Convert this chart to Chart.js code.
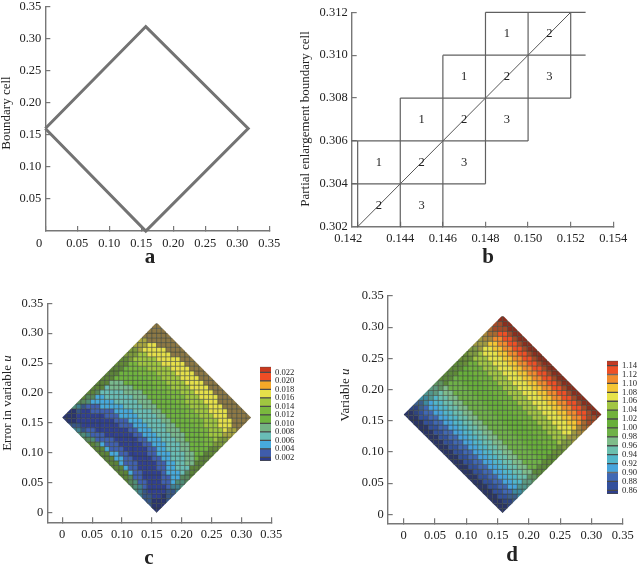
<!DOCTYPE html>
<html>
<head>
<meta charset="utf-8">
<style>
  body { margin: 0; background: #fff; }
  canvas { position: absolute; }
</style>
<script src="https://cdn.jsdelivr.net/npm/chart.js@4/dist/chart.umd.js"></script>
</head>
<body>
<canvas id="chartA" width="295" height="275" style="left:0;top:0"></canvas>
<canvas id="chartB" width="343" height="275" style="left:295px;top:0"></canvas>
<canvas id="chartC" width="300" height="272" style="left:0;top:296px"></canvas>
<canvas id="chartD" width="298" height="272" style="left:340px;top:290px"></canvas>
<canvas id="barC" width="44" height="108" style="left:256px;top:360px"></canvas>
<canvas id="barD" width="35" height="146" style="left:603px;top:354px"></canvas>
<script>
// tick values and labels
const axisTicks = [0, 0.05, 0.10, 0.15, 0.20, 0.25, 0.30, 0.35];
const axisLabels = ["0", "0.05", "0.10", "0.15", "0.20", "0.25", "0.30", "0.35"];
const axisLabelsA = ["0    ", "0.05", "0.10", "0.15", "0.20", "0.25", "0.30", "0.35"];
const yTicksA = [0.05, 0.10, 0.15, 0.20, 0.25, 0.30, 0.35];
const yLabelsA = ["0.05", "0.10", "0.15", "0.20", "0.25", "0.30", "0.35"];
const xTicksB = [0.142, 0.144, 0.146, 0.148, 0.150, 0.152, 0.154];
const xLabelsB = ["0.142      ", "0.144", "0.146", "0.148", "0.150", "0.152", "0.154"];
const yTicksB = [0.302, 0.304, 0.306, 0.308, 0.310, 0.312];
const yLabelsB = ["0.302", "0.304", "0.306", "0.308", "0.310", "0.312"];

// a: boundary outline
const outlineX = [0, 0.157, 0.317, 0.157, 0];
const outlineY = [0.16, 0.319, 0.16, 0, 0.16];

// b: enlarged boundary cells, [y, x0, x1] and [x, y0, y1]
const cellLinesH = [
  [0.312, 0.148, 0.1527], [0.310, 0.146, 0.1527], [0.308, 0.144, 0.152],
  [0.306, 0.1417, 0.150], [0.304, 0.1417, 0.148]
];
const cellLinesV = [
  [0.142, 0.302, 0.306], [0.144, 0.302, 0.308], [0.146, 0.302, 0.310],
  [0.148, 0.304, 0.312], [0.150, 0.306, 0.312], [0.152, 0.308, 0.312]
];
const diagonalX = [0.142, 0.152];
const diagonalY = [0.302, 0.312];
const cellTextX = [0.143, 0.145, 0.147, 0.149, 0.143, 0.145, 0.147, 0.149, 0.151, 0.145, 0.147, 0.149, 0.151];
const cellTextY = [0.305, 0.307, 0.309, 0.311, 0.303, 0.305, 0.307, 0.309, 0.311, 0.303, 0.305, 0.307, 0.309];
const cellText = ["1", "1", "1", "1", "2", "2", "2", "2", "2", "3", "3", "3", "3"];

// c, d: cells on the mesh, bottom row first, one letter per cell (upper case = refined mesh)
const cellSize = 0.0079;
const errorRows = [
  "AA", "BAAA", "BBAAAB", "CBBaaABB", "DCBaaaaBBC", "EDCbaaaabCCD",
  "FEDbbaaabbcDDE", "FFEbbaaaabbccEEF", "FFFcbbaaaabcccdEFF", "FFFcbbaaaabbccdddFFF",
  "FFFcbbbaaaabbccddeeFFF", "FFFccbbaaaabbccdddeefFFG", "FFFccbbaaaabbcccdddeeffFGG",
  "FFFcbbbaaaaabbccdddeeffffGGH", "FFEcbbbaaaaabbcccdddeefffggHHH",
  "EEDbbbbaaaaabbcccdddeeffffgghHHI", "DDCbbbaaaaaabbcccdddeeefffgghhhIII",
  "CCBbbaaaaaaabbcccdddeeeffffgghhhiIIJ", "BBBaaaaaaaabbbcccddddeeffffgghhhiiiJJJ",
  "AAAaaaaaaaabbbcccddddeeffffggghhhiiiJJJJ", "AAAaaaaaabbbccccddddeeffffggghhhiiiJJJJJ",
  "AABaabbbbbccccddddeefffffgghhhiiiiJJJJ", "DCBbbbcccccddddeeefffffgghhhhiiiJJJJ",
  "EEDcccccdddddeeefffffgghhhhiiiJJJJ", "FEEccddddddeeefffffggghhhiiiiJJJ",
  "FFEdddddeeeefffffggghhhiiiiJJJ", "FFFdeeeeefffffggghhhhiiiiJJJ", "FFFeeeffffffggghhhhiiiiJJJ",
  "FFFfffffffggghhhhiiiiJJJ", "FFFffffgggghhhhiiiiJJJ", "FFFfgggghhhhhiiiiJJJ",
  "GGGgghhhhhiiiiiJJJ", "GGHhhhhhiiiiiJJJ", "HHHhhiiiiiJJJJ", "HHIiiiiiJJJJ",
  "IIIiiJJJJJ", "IIJJJJJJ", "JJJJJJ", "JJJJ", "JJ"
];
const variableRows = [
  "AA", "AAAB", "AAABBC", "AAAbbCCD", "AAAbbccDDE", "AAAbbccddEEF", "AAAbbccddeeFFG",
  "AAAbbccddeeffGGH", "AAAbbccddeeffggHHH", "AAAbbccddeeffgghhHHI", "AAAbbccddeeffgghhhhIII",
  "AAAbbccddeeffgghhhhiiIIJ", "AAAbbccddeeffgghhhhiiiiJJJ", "AAAbbccddeeffgghhhhiiiijjJKK",
  "AAAbbccddeeffgghhhhiiiijjjkKKL", "AAAbbccddeeffgghhhhiiiijjjkkkLLL",
  "AAAbbccddeeffgghhhhiiiijjjkkkllLMM", "AAAbbccddeeffgghhhhiiiijjjkkklllmMNN",
  "AAAbbccddeeffgghhhhiiiijjjkkklllmmnNOO", "AAAbbccddeeffgghhhhiiiijjjkkklllmmnnoOOP",
  "AABbccddeeffgghhhhiiiijjjkkklllmmnnooOPP", "BBCcddeeffgghhhhiiiijjjkkklllmmnnooOPP",
  "CCDdeeffgghhhhiiiijjjkkklllmmnnooOPP", "DDEeffgghhhhiiiijjjkkklllmmnnooOPP",
  "EEFfgghhhhiiiijjjkkklllmmnnooOPP", "FFGghhhhiiiijjjkkklllmmnnooOPP",
  "GGHhhhiiiijjjkkklllmmnnooOPP", "HHHhiiiijjjkkklllmmnnooOPP", "HHIiiijjjkkklllmmnnooOPP",
  "IIIijjjkkklllmmnnooOPP", "IIJjjkkklllmmnnooOPP", "JJJkkklllmmnnooOPP", "JKKklllmmnnooOPP",
  "KKLllmmnnooOPP", "LLLmmnnooOPP", "LMMnnooOPP", "MNNooOPP", "NOOOPP", "OOPP", "PP"
];
const errorColors = {
  a: "#303f92", b: "#4060b2", c: "#47a9dc", d: "#69bdb6", e: "#79b98e", f: "#6fb43f", g: "#7ab83e", h: "#a0c640", i: "#e6e04a",
  A: "#2a3570", B: "#355588", C: "#3f8090", D: "#4e8d78", E: "#56875c", F: "#5c8338", G: "#638a36", H: "#7d9a3a", I: "#a8a53f", J: "#8d7845"
};
const variableColors = {
  a: "#2f3f8c", b: "#33509c", c: "#4068b4", d: "#47a4dc", e: "#52b6ca", f: "#6cbfae", g: "#7fbc8a", h: "#6fb148", i: "#68af3a", j: "#72b23c",
  k: "#a2c543", l: "#e6e24a", m: "#f4c535", n: "#f28b2d", o: "#ee5026", p: "#c23a23",
  A: "#2b3568", B: "#2f4480", C: "#3c5f8c", D: "#3d8aa0", E: "#4f968f", F: "#5e9a80", G: "#5f9460", H: "#5c8a3a",
  I: "#5f8c36", J: "#6a9038", K: "#7f9a40", L: "#a09a40", M: "#a8873a", N: "#a86a30", O: "#a34a28", P: "#8a2f1f"
};
const errorOutlineX = [0, 0.158, 0.316, 0.158, 0];
const errorOutlineY = [0.159, 0.318, 0.159, 0, 0.159];
const variableOutlineX = [0, 0.158, 0.316, 0.158, 0];
const variableOutlineY = [0.16, 0.319, 0.16, 0.002, 0.16];

// colour bars
const errorBarEdges = [0.00113, 0.002, 0.004, 0.006, 0.008, 0.010, 0.012, 0.014, 0.016, 0.018, 0.020, 0.022, 0.02332];
const errorBarColors = ["#2e3c8c", "#3f5cab", "#47a9dc", "#69bdb6", "#74b383", "#6fb43f", "#7ab83e", "#a0c640", "#e6e04a", "#f5a828", "#ef4d25", "#c9391f"];
const errorBarTicks = [0.002, 0.004, 0.006, 0.008, 0.010, 0.012, 0.014, 0.016, 0.018, 0.020, 0.022];
const errorBarLabels = ["0.002", "0.004", "0.006", "0.008", "0.010", "0.012", "0.014", "0.016", "0.018", "0.020", "0.022"];
const variableBarEdges = [0.8517, 0.86, 0.88, 0.90, 0.92, 0.94, 0.96, 0.98, 1.00, 1.02, 1.04, 1.06, 1.08, 1.10, 1.12, 1.14, 1.151];
const variableBarColors = ["#2f3f8c", "#33509c", "#4068b4", "#47a4dc", "#52b6ca", "#6cbfae", "#7fbc8a", "#6fb148", "#68af3a", "#72b23c", "#a2c543", "#e6e24a", "#f4c535", "#f28b2d", "#ee5026", "#c23a23"];
const variableBarTicks = [0.86, 0.88, 0.90, 0.92, 0.94, 0.96, 0.98, 1.00, 1.02, 1.04, 1.06, 1.08, 1.10, 1.12, 1.14];
const variableBarLabels = ["0.86", "0.88", "0.90", "0.92", "0.94", "0.96", "0.98", "1.00", "1.02", "1.04", "1.06", "1.08", "1.10", "1.12", "1.14"];

const serif = "'Liberation Serif', serif";
const axisColor = "#777";

// rotated y title (with optional italic end) and the panel letter
const panelText = {
  id: "panelText",
  afterDraw(chart, args, opts) {
    const ctx = chart.ctx;
    ctx.save();
    ctx.fillStyle = "#222";
    ctx.textBaseline = "middle";
    ctx.font = `bold 21px ${serif}`;
    ctx.textAlign = "center";
    ctx.fillText(opts.letter, opts.letterX, opts.letterY);
    ctx.translate(opts.titleX, opts.titleY);
    ctx.rotate(-Math.PI / 2);
    ctx.font = `13px ${serif}`;
    const w1 = ctx.measureText(opts.title).width;
    ctx.font = `italic 13px ${serif}`;
    const w2 = opts.titleItalic ? ctx.measureText(opts.titleItalic).width : 0;
    ctx.textAlign = "left";
    ctx.font = `13px ${serif}`;
    ctx.fillText(opts.title, -(w1 + w2) / 2, 0);
    if (opts.titleItalic) {
      ctx.font = `italic 13px ${serif}`;
      ctx.fillText(opts.titleItalic, -(w1 + w2) / 2 + w1, 0);
    }
    ctx.restore();
  }
};

// the number written in each cell of panel b
const cellNumbers = {
  id: "cellNumbers",
  afterDatasetsDraw(chart) {
    const ctx = chart.ctx;
    ctx.save();
    ctx.fillStyle = "#222";
    ctx.font = `12.5px ${serif}`;
    ctx.textAlign = "center";
    ctx.textBaseline = "middle";
    cellText.forEach((t, i) => {
      ctx.fillText(t, chart.scales.x.getPixelForValue(cellTextX[i]), chart.scales.y.getPixelForValue(cellTextY[i]));
    });
    ctx.restore();
  }
};

// keep the square cells inside the outline
const outlineClip = {
  id: "outlineClip",
  beforeDatasetsDraw(chart, args, opts) {
    const ctx = chart.ctx;
    ctx.save();
    ctx.beginPath();
    opts.x.forEach((v, i) => {
      ctx.lineTo(chart.scales.x.getPixelForValue(v), chart.scales.y.getPixelForValue(opts.y[i]));
    });
    ctx.closePath();
    ctx.clip();
  },
  afterDatasetsDraw(chart) {
    chart.ctx.restore();
  }
};

const fixedTicks = (values) => (scale) => {
  scale.ticks = values.map((value) => ({ value }));
};
const noPadding = (scale) => {
  scale.paddingLeft = scale.paddingRight = scale.paddingTop = scale.paddingBottom = 0;
};

const linearAxis = (min, max, ticks, labels, size, horizontal, padding) => ({
  type: "linear",
  min,
  max,
  afterBuildTicks: fixedTicks(ticks),
  afterFit: (scale) => {
    if (horizontal) scale.height = size;
    else scale.width = size;
    noPadding(scale);
  },
  border: { color: axisColor, width: 1.4 },
  grid: { drawOnChartArea: false, color: axisColor, tickLength: -5, lineWidth: 1.2 },
  ticks: {
    autoSkip: false,
    maxRotation: 0,
    padding,
    color: "#222",
    font: { family: serif, size: 12.5 },
    callback: (v, i) => labels[i]
  }
});

// canvas box in page pixels, plot rectangle in page pixels
const panel = (id, box, plot, datasets, xAxis, yAxis, text, extra = {}, plugins = []) => {
  const [bl, bt, bw, bh] = box;
  const [pl, pt, pr, pb] = plot;
  new Chart(document.getElementById(id), {
    type: "scatter",
    data: { datasets },
    plugins: [panelText, ...plugins],
    options: {
      responsive: false,
      animation: false,
      events: [],
      layout: { padding: { left: 0, top: pt - bt, right: bl + bw - pr, bottom: 0 } },
      scales: {
        x: linearAxis(xAxis.min, xAxis.max, xAxis.ticks, xAxis.labels, bt + bh - pb, true, 10),
        y: linearAxis(yAxis.min, yAxis.max, yAxis.ticks, yAxis.labels, pl - bl, false, 9)
      },
      plugins: {
        legend: { display: false },
        tooltip: { enabled: false },
        panelText: {
          ...text,
          letterX: text.letterX - bl,
          letterY: text.letterY - bt,
          titleX: text.titleX - bl,
          titleY: text.titleY - bt
        },
        ...extra
      }
    }
  });
};

const lineData = (xs, ys) => xs.map((x, i) => ({ x, y: ys[i] }));

const cellDataset = (rows, colors, yStart) => {
  const data = [];
  const backgroundColor = [];
  rows.forEach((row, j) => {
    const start = 20 - row.length / 2;
    [...row].forEach((letter, k) => {
      data.push({ x: (start + k + 0.5) * cellSize, y: yStart + (j + 0.5) * cellSize });
      backgroundColor.push(colors[letter]);
    });
  });
  return {
    data,
    backgroundColor,
    borderColor: "rgba(55,65,55,0.52)",
    borderWidth: 0.9,
    pointStyle: "rect",
    pointRadius: (c) => {
      const s = c.chart.scales.x;
      return (s.getPixelForValue(cellSize) - s.getPixelForValue(0)) / Math.SQRT2;
    }
  };
};

panel("chartA", [0, 0, 295, 275], [45.3, 6.7, 269.3, 231],
  [
    { data: lineData(outlineX, outlineY), showLine: true, clip: false, pointRadius: 0, borderColor: "#737373", borderWidth: 3 },
    { data: lineData(outlineX, outlineY), showLine: true, clip: false, pointRadius: 0, borderColor: "#a8a8a8", borderWidth: 1.6, borderDash: [3, 8] }
  ],
  { min: 0, max: 0.35, ticks: axisTicks, labels: axisLabelsA },
  { min: 0, max: 0.35, ticks: yTicksA, labels: yLabelsA },
  { letter: "a", letterX: 150, letterY: 258, title: "Boundary cell", titleX: 7, titleY: 113 });

panel("chartB", [295, 0, 343, 275], [351.7, 12.3, 613.3, 226.7],
  [
    ...cellLinesH.map(([y, x0, x1]) => ({ data: [{ x: x0, y }, { x: x1, y }], showLine: true, pointRadius: 0, borderColor: "#606060", borderWidth: 1.2, clip: false })),
    ...cellLinesV.map(([x, y0, y1]) => ({ data: [{ x, y: y0 }, { x, y: y1 }], showLine: true, pointRadius: 0, borderColor: "#606060", borderWidth: 1.2, clip: false })),
    { data: lineData(diagonalX, diagonalY), showLine: true, pointRadius: 0, borderColor: "#444", borderWidth: 0.9, clip: false }
  ],
  { min: 0.14172, max: 0.154, ticks: xTicksB, labels: xLabelsB },
  { min: 0.302, max: 0.312, ticks: yTicksB, labels: yLabelsB },
  { letter: "b", letterX: 488, letterY: 258, title: "Partial enlargement boundary cell", titleX: 306, titleY: 119 },
  {}, [cellNumbers]);

panel("chartC", [0, 296, 300, 272], [47.3, 303.3, 271.3, 522.3],
  [cellDataset(errorRows, errorColors, 0)],
  { min: -0.025, max: 0.35, ticks: axisTicks, labels: axisLabels },
  { min: -0.016, max: 0.35, ticks: axisTicks, labels: axisLabels },
  { letter: "c", letterX: 149, letterY: 559, title: "Error in variable ", titleItalic: "u", titleX: 7.5, titleY: 403 },
  { outlineClip: { x: errorOutlineX, y: errorOutlineY } }, [outlineClip]);

panel("chartD", [340, 290, 298, 272], [387.7, 296, 622.7, 523.3],
  [cellDataset(variableRows, variableColors, 0.001)],
  { min: -0.0256, max: 0.35, ticks: axisTicks, labels: axisLabels },
  { min: -0.0144, max: 0.35, ticks: axisTicks, labels: axisLabels },
  { letter: "d", letterX: 512, letterY: 556, title: "Variable ", titleItalic: "u", titleX: 346, titleY: 395 },
  { outlineClip: { x: variableOutlineX, y: variableOutlineY } }, [outlineClip]);

const colourBar = (id, box, plot, edges, colors, ticks, labels) => {
  const [bl, bt, bw, bh] = box;
  const [pl, pt, pr, pb] = plot;
  new Chart(document.getElementById(id), {
    type: "bar",
    data: {
      labels: [""],
      datasets: colors.map((c, i) => ({
        data: [[edges[i], edges[i + 1]]],
        backgroundColor: c,
        borderColor: "#4a4a4a",
        borderWidth: { top: 1, bottom: 1, left: 0, right: 0 },
        borderSkipped: false,
        grouped: false,
        barPercentage: 1,
        categoryPercentage: 1
      }))
    },
    options: {
      responsive: false,
      animation: false,
      events: [],
      layout: { padding: { left: pl - bl, top: pt - bt, right: 0, bottom: bt + bh - pb } },
      plugins: { legend: { display: false }, tooltip: { enabled: false } },
      scales: {
        x: { display: false },
        y: {
          position: "right",
          min: edges[0],
          max: edges[edges.length - 1],
          afterBuildTicks: fixedTicks(ticks),
          afterFit: (scale) => {
            scale.width = bl + bw - pr;
            noPadding(scale);
          },
          border: { display: false },
          grid: { display: false, drawTicks: false },
          ticks: {
            autoSkip: false,
            padding: 4,
            color: "#222",
            font: { family: serif, size: 8.6 },
            callback: (v, i) => labels[i]
          }
        }
      }
    }
  });
};

colourBar("barC", [256, 360, 44, 108], [260, 366.7, 271, 461], errorBarEdges, errorBarColors, errorBarTicks, errorBarLabels);
colourBar("barD", [603, 354, 35, 146], [607, 360.7, 618, 494], variableBarEdges, variableBarColors, variableBarTicks, variableBarLabels);
</script>
</body>
</html>
